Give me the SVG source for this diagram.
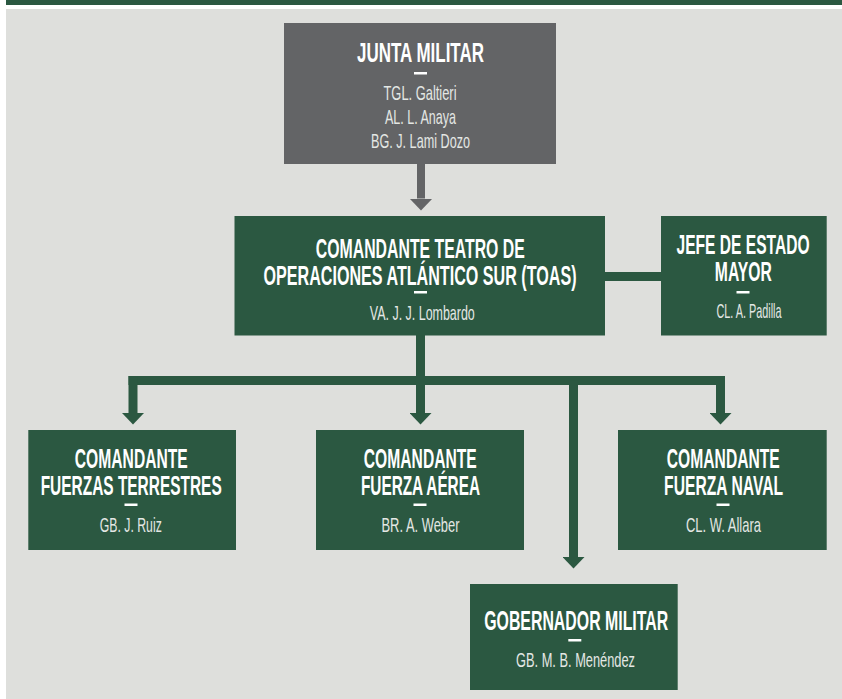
<svg xmlns="http://www.w3.org/2000/svg" width="842" height="699" viewBox="0 0 842 699">
  <style>
    .box { fill: #2b5841; }
    .gbox { fill: #636466; }
    .t { font-family: "Liberation Sans Narrow", "Liberation Sans", "DejaVu Sans", sans-serif; font-stretch: condensed; font-weight: bold; font-size: 27px; fill: #ffffff; text-anchor: middle; }
    .n { font-family: "Liberation Sans Narrow", "Liberation Sans", "DejaVu Sans", sans-serif; font-stretch: condensed; font-weight: normal; font-size: 21px; fill: #e4e7e4; text-anchor: middle; }
    .dash { fill: #ffffff; }
    .conn { fill: none; stroke: #2b5841; stroke-width: 9; }
    .gconn { fill: none; stroke: #636466; stroke-width: 8; }
  </style>
  <defs>
    <marker id="ah" markerUnits="userSpaceOnUse" viewBox="0 0 11.5 22" markerWidth="11.5" markerHeight="22" refX="0" refY="11" orient="auto">
      <path d="M0,0 L11.5,11 L0,22 z" fill="#2b5841"/>
    </marker>
    <marker id="gah" markerUnits="userSpaceOnUse" viewBox="0 0 12 23" markerWidth="12" markerHeight="23" refX="0" refY="11.5" orient="auto">
      <path d="M0,0 L12,11.5 L0,23 z" fill="#636466"/>
    </marker>
  </defs>

  <rect x="0" y="0" width="842" height="699" fill="#ffffff"/>
  <rect x="6" y="0" width="836" height="5" fill="#2b5841"/>
  <rect x="6" y="9" width="836" height="690" fill="#dedfdc"/>

  <g id="connectors">
    <path class="gconn" d="M421,164 V198.5" marker-end="url(#gah)"/>
    <path class="conn" d="M605,276.5 H661"/>
    <path class="conn" d="M420.5,335 V380.5"/>
    <path class="conn" d="M128.5,380.5 H725"/>
    <path class="conn" d="M133,376 V413" marker-end="url(#ah)"/>
    <path class="conn" d="M420.5,376 V413" marker-end="url(#ah)"/>
    <path class="conn" d="M720.5,376 V413" marker-end="url(#ah)"/>
    <path class="conn" d="M573.5,380.5 V557" marker-end="url(#ah)"/>
  </g>

  <g id="junta">
    <rect class="gbox" x="284" y="23" width="272" height="141"/>
    <text class="t" x="420.5" y="62" textLength="127" lengthAdjust="spacingAndGlyphs">JUNTA MILITAR</text>
    <rect class="dash" x="414" y="72" width="13" height="2.5"/>
    <text class="n" x="420" y="100" textLength="73" lengthAdjust="spacingAndGlyphs">TGL. Galtieri</text>
    <text class="n" x="420.5" y="124" textLength="71" lengthAdjust="spacingAndGlyphs">AL. L. Anaya</text>
    <text class="n" x="420.5" y="148" textLength="99" lengthAdjust="spacingAndGlyphs">BG. J. Lami Dozo</text>
  </g>

  <g id="toas">
    <rect class="box" x="234.5" y="216" width="370.5" height="119.5"/>
    <text class="t" x="420.3" y="258.3" textLength="209" lengthAdjust="spacingAndGlyphs">COMANDANTE TEATRO DE</text>
    <text class="t" x="420" y="285" textLength="313" lengthAdjust="spacingAndGlyphs">OPERACIONES ATLÁNTICO SUR (TOAS)</text>
    <rect class="dash" x="414" y="291" width="13" height="2.5"/>
    <text class="n" x="422.3" y="320" textLength="105" lengthAdjust="spacingAndGlyphs">VA. J. J. Lombardo</text>
  </g>

  <g id="jefe">
    <rect class="box" x="661" y="216" width="165.7" height="119.5"/>
    <text class="t" x="743" y="254.3" textLength="133" lengthAdjust="spacingAndGlyphs">JEFE DE ESTADO</text>
    <text class="t" x="743.3" y="281" textLength="57" lengthAdjust="spacingAndGlyphs">MAYOR</text>
    <rect class="dash" x="736.5" y="291" width="13" height="2.5"/>
    <text class="n" x="749" y="318.3" textLength="65" lengthAdjust="spacingAndGlyphs">CL. A. Padilla</text>
  </g>

  <g id="terrestres">
    <rect class="box" x="28.3" y="430" width="207.7" height="120"/>
    <text class="t" x="131.3" y="467.5" textLength="113" lengthAdjust="spacingAndGlyphs">COMANDANTE</text>
    <text class="t" x="131.2" y="495" textLength="181" lengthAdjust="spacingAndGlyphs">FUERZAS TERRESTRES</text>
    <rect class="dash" x="124.5" y="503.5" width="13" height="2.5"/>
    <text class="n" x="130.8" y="532.3" textLength="62" lengthAdjust="spacingAndGlyphs">GB. J. Ruiz</text>
  </g>

  <g id="aerea">
    <rect class="box" x="316" y="430" width="208" height="120"/>
    <text class="t" x="420.3" y="467.5" textLength="113" lengthAdjust="spacingAndGlyphs">COMANDANTE</text>
    <text class="t" x="420.5" y="495" textLength="119" lengthAdjust="spacingAndGlyphs">FUERZA AÉREA</text>
    <rect class="dash" x="413.5" y="503.5" width="13" height="2.5"/>
    <text class="n" x="420.5" y="532.3" textLength="78" lengthAdjust="spacingAndGlyphs">BR. A. Weber</text>
  </g>

  <g id="naval">
    <rect class="box" x="618" y="430" width="208.7" height="120"/>
    <text class="t" x="723.3" y="467.5" textLength="113" lengthAdjust="spacingAndGlyphs">COMANDANTE</text>
    <text class="t" x="723.6" y="495" textLength="119" lengthAdjust="spacingAndGlyphs">FUERZA NAVAL</text>
    <rect class="dash" x="716.5" y="503.5" width="13" height="2.5"/>
    <text class="n" x="723.5" y="532.3" textLength="75" lengthAdjust="spacingAndGlyphs">CL. W. Allara</text>
  </g>

  <g id="gobernador">
    <rect class="box" x="470" y="584" width="207.7" height="106"/>
    <text class="t" x="576.2" y="630" textLength="184" lengthAdjust="spacingAndGlyphs">GOBERNADOR MILITAR</text>
    <rect class="dash" x="568.3" y="639" width="13" height="2.5"/>
    <text class="n" x="575.5" y="667.3" textLength="119" lengthAdjust="spacingAndGlyphs">GB. M. B. Menéndez</text>
  </g>
</svg>
